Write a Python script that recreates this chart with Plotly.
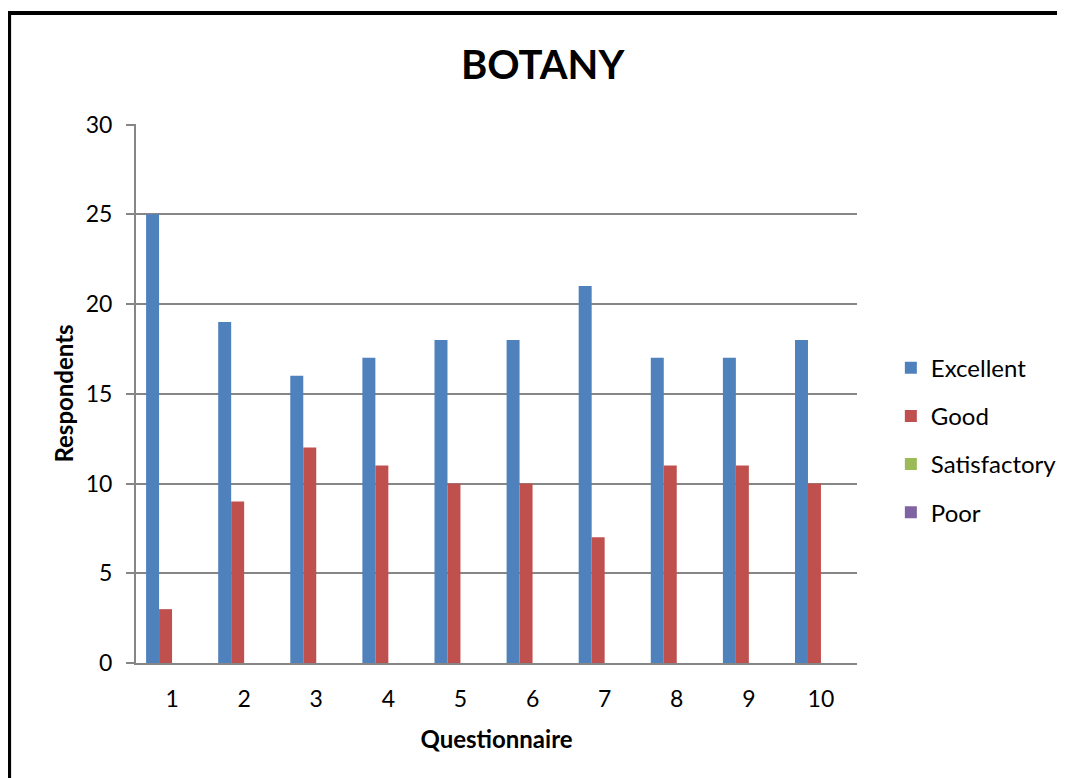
import plotly.graph_objects as go

questions = [str(i) for i in range(1, 11)]
excellent = [25, 19, 16, 17, 18, 18, 21, 17, 17, 18]
good = [3, 9, 12, 11, 10, 10, 7, 11, 11, 10]
satisfactory = [0, 0, 0, 0, 0, 0, 0, 0, 0, 0]
poor = [0, 0, 0, 0, 0, 0, 0, 0, 0, 0]

series = [
    ("Excellent", excellent, "#4F81BD"),
    ("Good", good, "#C0504D"),
    ("Satisfactory", satisfactory, "#9BBB59"),
    ("Poor", poor, "#8064A2"),
]

font = "Lato, Carlito, Calibri, sans-serif"

fig = go.Figure()
for name, vals, color in series:
    fig.add_trace(go.Bar(x=questions, y=vals, name=name, marker_color=color,
                         marker_line_width=0, legendgroup=name))

fig.update_layout(
    width=1065,
    height=778,
    barmode="group",
    bargap=0.28,
    bargroupgap=0,
    plot_bgcolor="white",
    paper_bgcolor="white",
    margin=dict(l=128, r=215, t=116, b=123),
    font=dict(family=font, size=23, color="black"),
    title=dict(text="<b>BOTANY</b>", x=0.502, xanchor="center", y=0.927, yanchor="middle",
               font=dict(family=font, size=40, color="black")),
    legend=dict(x=1.0455, y=0.4135, xanchor="left", yanchor="middle",
                font=dict(family=font, size=24), traceorder="grouped",
                tracegroupgap=14, itemwidth=30),
    showlegend=True,
)

fig.update_xaxes(
    title_text="<b>Questionnaire</b>",
    title_font=dict(size=24),
    title_standoff=21,
    showline=True, linecolor="#868686", linewidth=2,
    showgrid=False, ticks="", ticklabelstandoff=14,
)
fig.update_yaxes(
    title_text="<b>Respondents</b>",
    title_font=dict(size=24),
    title_standoff=5,
    range=[0, 30.03], tickvals=[0, 5, 10, 15, 20, 25, 30],
    showline=True, linecolor="#868686", linewidth=2,
    showgrid=True, gridcolor="#868686", gridwidth=1.5,
    ticks="outside", ticklen=8, tickcolor="#868686", tickwidth=1.5,
    ticklabelstandoff=9,
    zeroline=False,
)

# outer frame of the original figure
fig.add_shape(type="rect", xref="paper", yref="paper",
              x0=-0.176, x1=1.32, y0=-0.26, y1=1.206,
              line=dict(color="black", width=4))

fig.write_html("out.html")
